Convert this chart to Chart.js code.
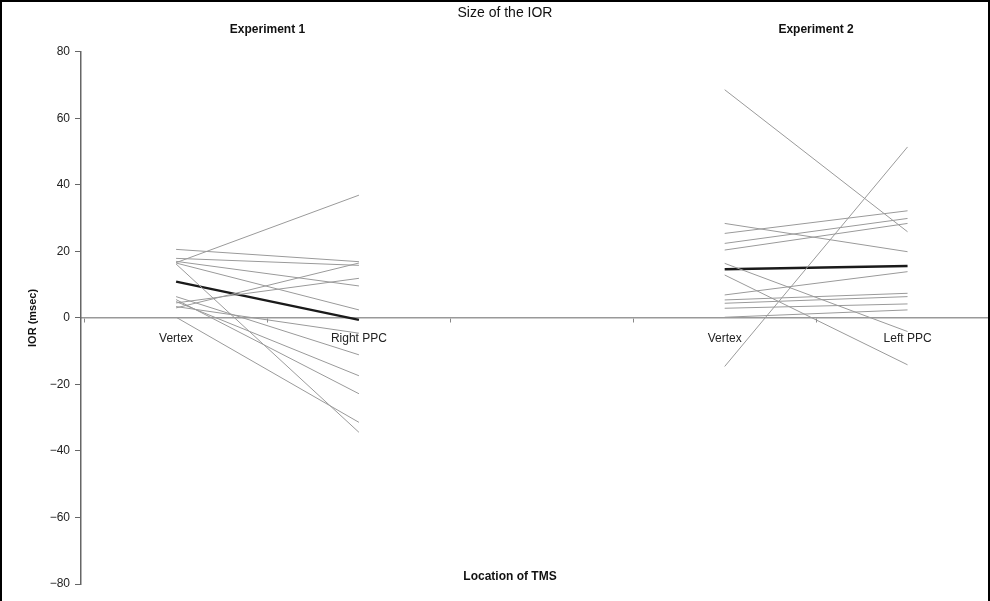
<!DOCTYPE html>
<html>
<head>
<meta charset="utf-8">
<script src="https://cdn.jsdelivr.net/npm/chart.js@4/dist/chart.umd.min.js"></script>
<style>
  body { margin: 0; background: #fff; }
  #wrap { width: 990px; height: 601px; box-sizing: border-box; border: 2px solid #000; border-bottom: none; }
</style>
</head>
<body>
<div id="wrap"><canvas id="iorChart" width="986" height="599"></canvas></div>
<script>
// categories along the x axis (the empty one is the gap between the experiments)
const categories = ['Vertex', 'Right PPC', '', 'Vertex', 'Left PPC'];
const experiments = ['Experiment 1', 'Experiment 2'];

// Experiment 1, one value per subject (msec)
const exp1Vertex   = [20.6, 16.6, 17.9, 17.0, 16.5, 16.2, 4.5, 3.0, 6.4, 4.9, 3.4, 0.2, 5.5];
const exp1RightPPC = [16.9, 36.9, 15.8, 9.6, 2.4, -34.4, 11.9, 16.5, -11.1, -17.4, -4.6, -31.4, -22.8];
const exp1Mean     = [10.9, -0.6];

// Experiment 2, one value per subject (msec)
const exp2Vertex  = [68.6, -14.6, 28.4, 25.4, 22.4, 20.4, 16.4, 12.9, 6.9, 5.4, 4.4, 2.9, 0.2];
const exp2LeftPPC = [25.9, 51.4, 19.9, 32.2, 29.9, 28.4, -4.1, -14.1, 13.9, 7.4, 6.4, 4.2, 2.4];
const exp2Mean    = [14.6, 15.6];

const font = '"Liberation Sans", Arial, sans-serif';
const thin = '#9a9a9a';

// a pair of values at two category positions
function pair(a, b, i0, i1) {
    return [{x: i0, y: a}, {x: i1, y: b}];
}

let datasets = [];
exp1Vertex.forEach((v, i) => {
    datasets.push({data: pair(v, exp1RightPPC[i], 0, 1), borderColor: thin, borderWidth: 1});
});
exp2Vertex.forEach((v, i) => {
    datasets.push({data: pair(v, exp2LeftPPC[i], 3, 4), borderColor: thin, borderWidth: 1});
});
datasets.push({data: pair(exp1Mean[0], exp1Mean[1], 0, 1), borderColor: '#1a1a1a', borderWidth: 2.5});
datasets.push({data: pair(exp2Mean[0], exp2Mean[1], 3, 4), borderColor: '#1a1a1a', borderWidth: 2.5});

// experiment headings and x axis title
const labelsPlugin = {
    id: 'extraLabels',
    afterDraw(chart) {
        const ctx = chart.ctx, x = chart.scales.x;
        ctx.save();
        ctx.fillStyle = '#111';
        ctx.font = 'bold 12px ' + font;
        ctx.textAlign = 'center';
        ctx.textBaseline = 'middle';
        ctx.fillText(experiments[0], x.getPixelForValue(0.5), 28);
        ctx.fillText(experiments[1], x.getPixelForValue(3.5), 28);
        ctx.fillText('Location of TMS', 508, 575);
        ctx.restore();
    }
};

new Chart(document.getElementById('iorChart'), {
    type: 'line',
    data: {datasets: datasets},
    options: {
        responsive: false,
        animation: false,
        events: [],
        elements: {point: {radius: 0}, line: {tension: 0}},
        layout: {padding: {left: 20, right: 0, top: 0, bottom: 17}},
        scales: {
            x: {
                type: 'linear',
                min: -0.52,
                max: 4.44,
                position: {y: 0},
                afterBuildTicks: (scale) => { scale.ticks = categories.map((c, i) => ({value: i})); },
                grid: {offset: true, drawOnChartArea: false, drawTicks: true, tickLength: 4, color: '#888'},
                border: {display: true, color: '#999', width: 1.5},
                ticks: {
                    padding: 10,
                    color: '#222',
                    font: {family: font, size: 12},
                    maxRotation: 0,
                    autoSkip: false,
                    callback: (v) => categories[v]
                }
            },
            y: {
                min: -80,
                max: 80,
                afterFit: (scale) => { scale.width = 59; },
                grid: {drawOnChartArea: false, drawTicks: true, tickLength: 6, color: '#666'},
                border: {display: true, color: '#666', width: 1.5},
                ticks: {
                    stepSize: 20,
                    padding: 5,
                    color: '#222',
                    font: {family: font, size: 12},
                    callback: (v) => String(v).replace('-', '\u2212')
                },
                title: {display: true, text: 'IOR (msec)', color: '#111', font: {family: font, size: 11, weight: 'bold'}}
            }
        },
        plugins: {
            legend: {display: false},
            tooltip: {enabled: false},
            title: {
                display: true,
                text: 'Size of the IOR',
                color: '#111',
                font: {family: font, size: 14, weight: 'normal'},
                padding: {top: 3, bottom: 30}
            }
        }
    },
    plugins: [labelsPlugin]
});
</script>
</body>
</html>
